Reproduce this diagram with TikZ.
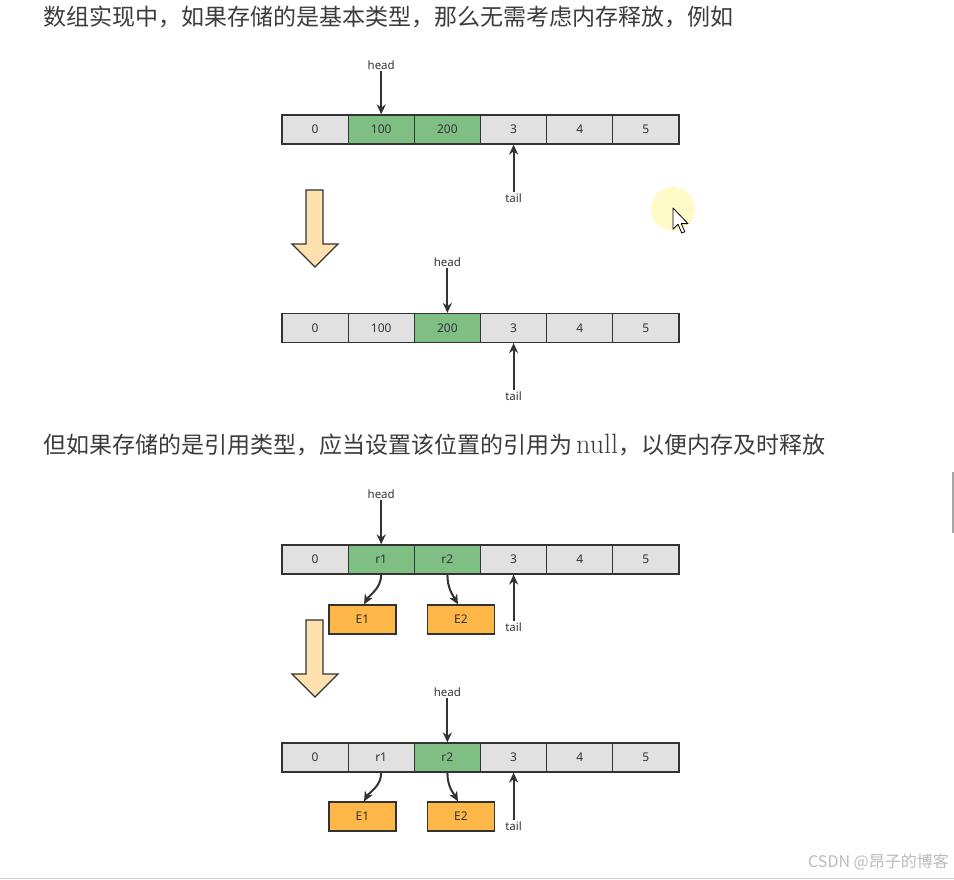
\documentclass[tikz,border=0pt]{standalone}
\usepackage{fontspec}
\newfontfamily\cjk{Noto Sans CJK SC}
\newfontfamily\lblfont{Noto Sans}
\usetikzlibrary{arrows.meta}
\definecolor{cellgray}{HTML}{E1E1E1}
\definecolor{cellgreen}{HTML}{80BF84}
\definecolor{boxorange}{HTML}{FFB747}
\definecolor{bigarrow}{HTML}{FFE1AF}
\definecolor{edge}{HTML}{333333}
\definecolor{textgray}{HTML}{3C3C3C}
\definecolor{markgray}{HTML}{BBBBBB}
\definecolor{cursorglow}{HTML}{FFFBC8}
\tikzset{
  cell/.style={draw=edge, line width=1.2pt, fill=cellgray, minimum width=66.17pt, minimum height=29pt, inner sep=0pt, font=\lblfont\fontsize{12}{14}\selectfont, text=edge},
  gcell/.style={cell, fill=cellgreen},
  ebox/.style={draw=edge, line width=1.2pt, fill=boxorange, minimum width=67pt, minimum height=29pt, inner sep=0pt, font=\lblfont\fontsize{12}{14}\selectfont, text=edge},
  ptrlabel/.style={font=\lblfont\fontsize{11.5}{13}\selectfont, text=edge, inner sep=1pt},
  ptr/.style={draw=edge, line width=2pt, -{Stealth[length=10pt,width=9pt]}},
  bigarr/.style={draw=edge, line width=1.3pt, fill=bigarrow, line join=miter},
  heading/.style={anchor=west, inner sep=0pt, text=textgray, font=\cjk\fontsize{23}{26}\selectfont}
}
\begin{document}
\begin{tikzpicture}[x=1pt,y=-1pt]
\fill[white] (0,0) rectangle (954,880);
\useasboundingbox (0,0) rectangle (954,880);

% headings
\node[heading] (t1) at (43,17) {数组实现中，如果存储的是基本类型，那么无需考虑内存释放，例如};
\node[heading] (t2) at (43,445) {但如果存储的是引用类型，应当设置该位置的引用为\hspace{4pt}{\rmfamily\fontsize{28}{30}\selectfont null}，以便内存及时释放};

% ---------- row 1 ----------
\node[cell]  (a0) at (315.1,129.5) {0};
\node[gcell] (a1) at (381.2,129.5) {100};
\node[gcell] (a2) at (447.4,129.5) {200};
\node[cell]  (a3) at (513.6,129.5) {3};
\node[cell]  (a4) at (579.8,129.5) {4};
\node[cell]  (a5) at (645.9,129.5) {5};
\node[ptrlabel] (ah) at (381.2,65) {head};
\node[ptrlabel] (at) at (513.6,198) {tail};
\draw[ptr] (ah.south) -- (a1.north);
\draw[ptr] (at.north) -- (a3.south);

% big arrow 1
\draw[bigarr] (306,190) -- (323,190) -- (323,244) -- (338,244) -- (315,267) -- (292,244) -- (306,244) -- cycle;

% cursor highlight
\fill[cursorglow] (673,209) circle (22);
\begin{scope}[shift={(673,208)}, scale=1.25]
\draw[black, fill=white, line width=0.8pt, line join=round] (0,0) -- (0,17) -- (4,13) -- (7,20) -- (9.5,19) -- (6.5,12.5) -- (12,12.5) -- cycle;
\end{scope}

% ---------- row 2 ----------
\node[cell]  (b0) at (315.1,328) {0};
\node[cell]  (b1) at (381.2,328) {100};
\node[gcell] (b2) at (447.4,328) {200};
\node[cell]  (b3) at (513.6,328) {3};
\node[cell]  (b4) at (579.8,328) {4};
\node[cell]  (b5) at (645.9,328) {5};
\node[ptrlabel] (bh) at (447.4,262) {head};
\node[ptrlabel] (bt) at (513.6,396) {tail};
\draw[ptr] (bh.south) -- (b2.north);
\draw[ptr] (bt.north) -- (b3.south);

% ---------- row 3 ----------
\node[cell]  (c0) at (315.1,559.5) {0};
\node[gcell] (c1) at (381.2,559.5) {r1};
\node[gcell] (c2) at (447.4,559.5) {r2};
\node[cell]  (c3) at (513.6,559.5) {3};
\node[cell]  (c4) at (579.8,559.5) {4};
\node[cell]  (c5) at (645.9,559.5) {5};
\node[ebox] (ce1) at (362.5,619.5) {E1};
\node[ebox] (ce2) at (461,619.5) {E2};
\node[ptrlabel] (ch) at (381.2,494) {head};
\node[ptrlabel] (ct) at (513.6,627) {tail};
\draw[ptr] (ch.south) -- (c1.north);
\draw[ptr] (ct.north) -- (c3.south);
\draw[ptr] (c1.south) .. controls +(0,14) and +(5,-9) .. ([xshift=1.5pt]ce1.north);
\draw[ptr] (c2.south) .. controls +(0,14) and +(-5,-9) .. ([xshift=-3pt]ce2.north);

% big arrow 2
\draw[bigarr] (306,620) -- (323,620) -- (323,674) -- (338,674) -- (315,697) -- (292,674) -- (306,674) -- cycle;

% ---------- row 4 ----------
\node[cell]  (d0) at (315.1,757.5) {0};
\node[cell]  (d1) at (381.2,757.5) {r1};
\node[gcell] (d2) at (447.4,757.5) {r2};
\node[cell]  (d3) at (513.6,757.5) {3};
\node[cell]  (d4) at (579.8,757.5) {4};
\node[cell]  (d5) at (645.9,757.5) {5};
\node[ebox] (de1) at (362.5,816.5) {E1};
\node[ebox] (de2) at (461,816.5) {E2};
\node[ptrlabel] (dh) at (447.4,692) {head};
\node[ptrlabel] (dt) at (513.6,826) {tail};
\draw[ptr] (dh.south) -- (d2.north);
\draw[ptr] (dt.north) -- (d3.south);
\draw[ptr] (d1.south) .. controls +(0,14) and +(5,-9) .. ([xshift=1.5pt]de1.north);
\draw[ptr] (d2.south) .. controls +(0,14) and +(-5,-9) .. ([xshift=-3pt]de2.north);

% page decorations
\node[anchor=east, inner sep=0pt, text=markgray, font=\cjk\fontsize{16}{18}\selectfont] (wm) at (949,862) {CSDN @昂子的博客};
\draw[draw=black!18, line width=1pt] (0,878.5) -- (954,878.5);
\draw[draw=black!35, line width=1.5pt] (953,472) -- (953,533);
\end{tikzpicture}
\end{document}
